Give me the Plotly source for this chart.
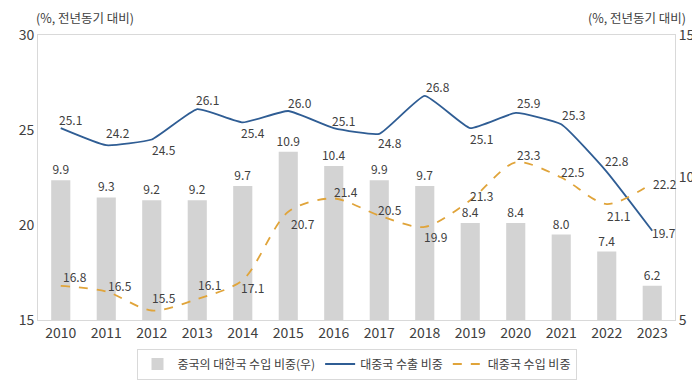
import plotly.graph_objects as go

years = ["2010", "2011", "2012", "2013", "2014", "2015", "2016",
         "2017", "2018", "2019", "2020", "2021", "2022", "2023"]
china_import_share_korea = [9.9, 9.3, 9.2, 9.2, 9.7, 10.9, 10.4,
                            9.9, 9.7, 8.4, 8.4, 8.0, 7.4, 6.2]
export_share_to_china = [25.1, 24.2, 24.5, 26.1, 25.4, 26.0, 25.1,
                         24.8, 26.8, 25.1, 25.9, 25.3, 22.8, 19.7]
import_share_from_china = [16.8, 16.5, 15.5, 16.1, 17.1, 20.7, 21.4,
                           20.5, 19.9, 21.3, 23.3, 22.5, 21.1, 22.2]

bar_name = "중국의 대한국 수입 비중(우)"
export_name = "대중국 수출 비중"
import_name = "대중국 수입 비중"
axis_note = "(%, 전년동기 대비)"

# label offsets in pixels (dx, dy)
export_label_offsets = [(10, 9), (12, 13), (12, -10), (10, 10), (10, -10), (12, 9), (10, 8),
                        (11, -9), (13, 9), (11, -10), (13, 10), (12, 10), (10, 11), (12, -2)]
import_label_offsets = [(14, 9), (14, 6), (12, 13), (12, 15), (10, -7), (15, -12), (12, 7),
                        (11, 6), (11, -10), (11, 5), (13, 8), (12, 6), (12, -11), (13, 0)]

FONT = "Noto Sans CJK KR"
TXT = "#404040"
BLUE = "#2f5d94"
GOLD = "#e0a43a"
BAR = "#d3d3d3"
FRAME = "#d9d9d9"

fig = go.Figure()

fig.add_trace(go.Bar(
    x=years, y=china_import_share_korea, name=bar_name,
    marker=dict(color=BAR, line=dict(width=0)), width=0.42,
    text=[f"{v:.1f}" for v in china_import_share_korea],
    textposition="outside", cliponaxis=False, constraintext="none",
    textfont=dict(family=FONT, size=12, color=TXT),
    yaxis="y",
))
fig.add_trace(go.Scatter(
    x=years, y=export_share_to_china, name=export_name, mode="lines",
    line=dict(color=BLUE, width=1.8, shape="spline", smoothing=0.4),
    yaxis="y2",
))
fig.add_trace(go.Scatter(
    x=years, y=import_share_from_china, name=import_name, mode="lines",
    line=dict(color=GOLD, width=1.8, dash="dash", shape="spline", smoothing=0.8),
    yaxis="y2",
))

annotations = []
for i, (v, (dx, dy)) in enumerate(zip(export_share_to_china, export_label_offsets)):
    annotations.append(dict(x=i, y=v, xref="x", yref="y2", text=f"{v:.1f}",
                            showarrow=False, xshift=dx, yshift=dy,
                            font=dict(family=FONT, size=12, color=TXT)))
for i, (v, (dx, dy)) in enumerate(zip(import_share_from_china, import_label_offsets)):
    annotations.append(dict(x=i, y=v, xref="x", yref="y2", text=f"{v:.1f}",
                            showarrow=False, xshift=dx, yshift=dy,
                            font=dict(family=FONT, size=12, color=TXT)))
annotations.append(dict(x=0, y=1, xref="paper", yref="paper", text=axis_note,
                        showarrow=False, xanchor="left", yanchor="bottom", yshift=6,
                        xshift=-4, font=dict(family=FONT, size=12.5, color=TXT)))
annotations.append(dict(x=1, y=1, xref="paper", yref="paper", text=axis_note,
                        showarrow=False, xanchor="right", yanchor="bottom", yshift=6,
                        xshift=13, font=dict(family=FONT, size=12.5, color=TXT)))

fig.update_layout(
    width=700, height=384,
    margin=dict(l=30, r=33, t=27, b=69),
    paper_bgcolor="white", plot_bgcolor="white",
    font=dict(family=FONT, size=12, color=TXT),
    xaxis=dict(type="category", range=[-0.5, 13.5], showgrid=False,
               showline=True, linecolor=FRAME, mirror=True, ticks="",
               tickfont=dict(size=14, color=TXT)),
    yaxis=dict(side="right", range=[5, 15], dtick=5, showgrid=False,
               showline=True, linecolor=FRAME, ticks="", zeroline=False,
               tickfont=dict(size=14, color=TXT)),
    yaxis2=dict(side="left", overlaying="y", range=[15, 30], dtick=5,
                showgrid=False, showline=True, linecolor=FRAME, ticks="",
                zeroline=False, tickfont=dict(size=14, color=TXT)),
    showlegend=True,
    legend=dict(orientation="h", x=0.5, xanchor="center", y=-0.1, yanchor="top",
                bordercolor=FRAME, borderwidth=1, font=dict(size=12, color=TXT),
                traceorder="normal"),
    annotations=annotations,
)

fig.write_html("out.html")
